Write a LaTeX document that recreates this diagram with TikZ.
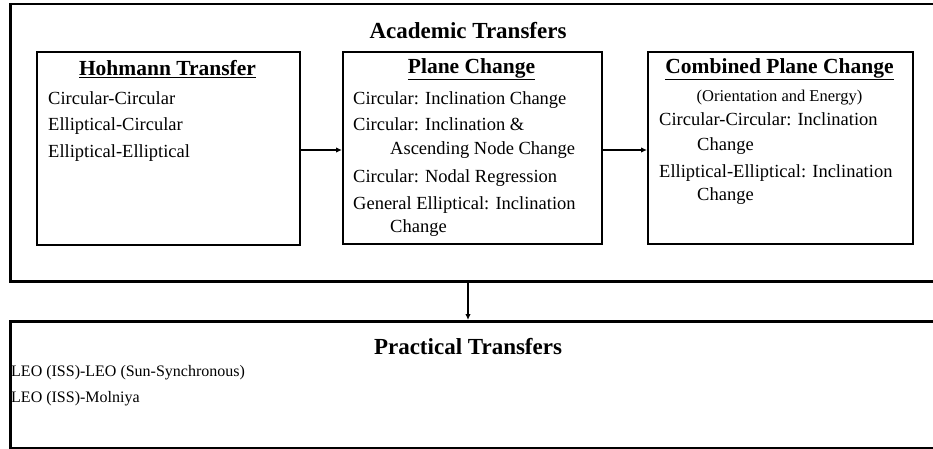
\documentclass[tikz,border=0pt]{standalone}
\usepackage{fontspec}
\setmainfont{Liberation Serif}
\usetikzlibrary{arrows.meta}
\begin{document}
\begin{tikzpicture}[x=1pt,y=-1pt,
  bigbox/.style={draw, line width=2.5pt, inner sep=0pt, anchor=north west},
  subbox/.style={draw, line width=1.8pt, inner sep=0pt, anchor=north west},
  bigtitle/.style={font=\fontsize{23}{26}\selectfont\bfseries, inner sep=0pt},
  subtitle/.style={font=\fontsize{21.5}{24}\selectfont\bfseries, inner sep=0pt},
  body/.style={font=\fontsize{18.5}{22}\selectfont, inner sep=0pt, anchor=west, text height=0.7em, text depth=0.25em},
  small/.style={font=\fontsize{16.5}{20}\selectfont, inner sep=0pt, text height=0.7em, text depth=0.25em},
  leo/.style={font=\fontsize{16}{19}\selectfont, inner sep=0pt, anchor=west, text height=0.7em, text depth=0.25em},
  arr/.style={line width=1.3pt, -{Latex[length=6pt,width=5.5pt]}}
]
\clip (0,0) rectangle (933,449);
\fill[white] (0,0) rectangle (933,449);

% outer boxes
\node[bigbox, minimum width=940pt, minimum height=277pt] (academic) at (9,3) {};
\node[bigbox, minimum width=940pt, minimum height=127pt] (practical) at (9,320) {};

\node[bigtitle] (acadtitle) at (468,31) {Academic Transfers};
\node[bigtitle] (practitle) at (468,347) {Practical Transfers};

% inner boxes
\node[subbox, minimum width=263pt, minimum height=193pt] (hoh) at (36,51) {};
\node[subbox, minimum width=259pt, minimum height=192pt] (plane) at (342,51) {};
\node[subbox, minimum width=265pt, minimum height=192pt] (comb) at (647,51) {};

\node[subtitle] (hohtitle) at (167.5,69) {\underline{Hohmann Transfer}};
\node[subtitle] (planetitle) at (471.5,69) {\underline{Plane Change}};
\node[subtitle] (combtitle) at (779.5,69) {\underline{Combined Plane Change}};

% Hohmann content
\node[body] (h1) at (48,102) {Circular-Circular};
\node[body] (h2) at (48,128) {Elliptical-Circular};
\node[body] (h3) at (48,155) {Elliptical-Elliptical};

% Plane change content
\node[body] (p1) at (353,102) {Circular: Inclination Change};
\node[body] (p2) at (353,128) {Circular: Inclination \&};
\node[body] (p3) at (390,152) {Ascending Node Change};
\node[body] (p4) at (353,180) {Circular: Nodal Regression};
\node[body] (p5) at (353,207) {General Elliptical: Inclination};
\node[body] (p6) at (390,230) {Change};

% Combined content
\node[small] (c0) at (779.5,99) {(Orientation and Energy)};
\node[body] (c1) at (659,123) {Circular-Circular: Inclination};
\node[body] (c2) at (697,148) {Change};
\node[body] (c3) at (659,175) {Elliptical-Elliptical: Inclination};
\node[body] (c4) at (697,198) {Change};

% Practical content
\node[leo] (l1) at (11,374) {LEO (ISS)-LEO (Sun-Synchronous)};
\node[leo] (l2) at (11,400) {LEO (ISS)-Molniya};

% connectors
\coordinate (ay) at (0,150);
\coordinate (ax) at (468,0);
\draw[arr] (hoh.east |- ay) -- (plane.west |- ay);
\draw[arr] (plane.east |- ay) -- (comb.west |- ay);
\draw[arr] (ax |- academic.south) -- (ax |- practical.north);
\end{tikzpicture}
\end{document}
